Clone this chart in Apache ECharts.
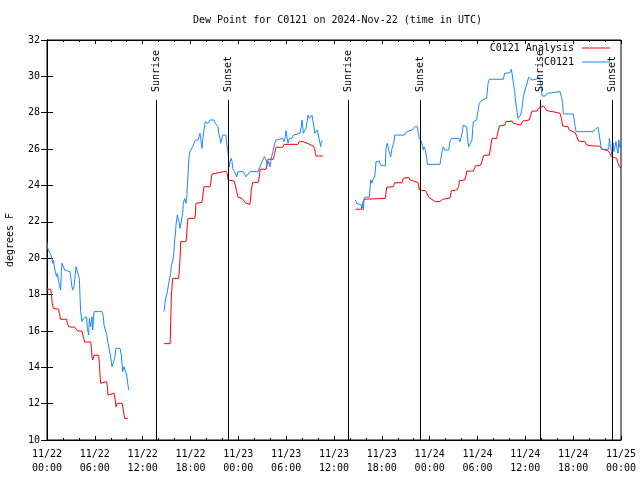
<!DOCTYPE html>
<html>
<head>
<meta charset="utf-8">
<script src="https://cdn.jsdelivr.net/npm/echarts@6/dist/echarts.min.js"></script>
<style>html,body{margin:0;padding:0;background:#fff}#c{width:640px;height:480px}</style>
</head>
<body>
<div id="c"></div>
<script>
// ---- data: [hour since 2024-11-22 00:00 UTC, dew point °F] ----
const obsSeg1 = [[0,20.87],[0.04,20.63],[0.17,20.45],[0.38,20.36],[0.5,20.17],[0.63,19.94],[0.71,19.72],[0.79,19.9],[0.96,19.81],[1.05,19.2],[1.21,18.98],[1.3,19.17],[1.46,19.07],[1.55,18.52],[1.71,18.25],[1.8,19.26],[1.88,19.72],[2.05,19.62],[2.22,19.35],[2.38,19.26],[2.88,19.26],[2.97,18.98],[3.13,18.43],[3.22,18.25],[3.39,18.43],[3.47,18.8],[3.64,19.53],[3.89,19.53],[4.06,18.89],[4.14,17.88],[4.22,17.06],[4.39,16.51],[4.56,16.69],[4.72,16.6],[4.97,16.78],[5.06,16.14],[5.23,15.77],[5.31,16.69],[5.48,16.23],[5.64,16.78],[5.73,16.05],[5.9,17.06],[6.9,17.06],[7.07,16.78],[7.15,16.32],[7.32,16.05],[7.48,15.87],[7.65,15.32],[7.82,14.95],[7.99,14.58],[8.15,14.03],[8.32,14.12],[8.49,14.49],[8.66,15.04],[9.16,15.04],[9.32,14.67],[9.49,13.76],[9.66,14.03],[9.82,13.94],[9.99,13.57],[10.16,13.02],[10.24,12.75]];
const obsSeg2 = [[14.68,17.06],[14.84,17.7],[15.01,17.97],[15.18,18.07],[15.35,18.8],[15.51,19.17],[15.6,19.62],[15.76,19.81],[15.85,19.9],[15.93,20.36],[16.01,21.0],[16.1,21.27],[16.18,21.82],[16.27,21.92],[16.35,22.37],[16.52,22.47],[16.6,21.92],[16.68,21.64],[16.77,21.82],[16.93,22.28],[17.02,22.47],[17.1,23.02],[17.19,23.11],[17.27,23.29],[17.35,23.2],[17.44,23.02],[17.52,23.29],[17.6,23.93],[17.69,24.57],[17.77,25.31],[17.85,25.67],[17.94,25.86],[18.19,25.95],[18.27,26.13],[18.44,26.32],[18.61,26.5],[18.77,26.41],[18.94,26.5],[19.03,26.59],[19.19,26.87],[19.28,26.59],[19.44,26.04],[19.53,26.5],[19.61,26.77],[19.69,27.05],[19.78,27.32],[19.86,27.51],[20.03,27.6],[20.2,27.42],[20.36,27.51],[20.45,27.6],[20.95,27.6],[21.12,27.42],[21.28,27.32],[21.45,27.23],[21.53,26.87],[21.7,26.59],[21.78,26.32],[21.87,26.5],[21.95,26.59],[22.04,26.77],[22.12,26.87],[22.29,26.68],[22.45,26.77],[22.54,26.32],[22.62,26.04],[22.7,25.86],[22.79,25.4],[22.87,25.03],[22.96,25.31],[23.12,25.49],[23.21,25.31],[23.29,24.94],[23.46,24.85],[23.62,24.67],[23.79,24.48],[23.96,24.76],[24.63,24.76],[24.8,24.67],[24.96,24.48],[25.21,24.48],[25.46,24.76],[26.47,24.76],[26.72,25.03],[26.89,25.22],[27.05,25.4],[27.3,25.58],[27.47,25.4],[27.64,25.12],[27.81,25.31],[27.97,25.03],[28.06,25.31],[28.22,25.67],[28.39,25.95],[28.56,26.32],[28.73,26.5],[28.89,26.59],[29.56,26.59],[29.73,26.41],[29.9,26.68],[29.98,27.01],[30.06,26.77],[30.15,26.54],[30.23,26.32],[30.4,26.59],[30.73,26.59],[30.9,26.77],[31.07,26.87],[31.74,26.87],[31.9,27.23],[31.99,27.6],[32.15,26.87],[32.32,26.96],[32.49,27.14],[32.66,27.6],[32.74,27.87],[32.91,27.69],[33.07,27.78],[33.24,27.87],[33.33,27.6],[33.49,27.23],[33.58,26.87],[33.83,26.87],[33.91,27.05],[33.99,27.14],[34.16,26.96],[34.24,26.32],[34.33,26.13],[34.41,26.41],[34.58,26.45]];
const obsSeg3 = [[38.68,23.2],[38.84,23.02],[39.01,22.92],[39.43,22.92],[39.51,22.74],[39.6,23.02],[39.68,22.65],[39.76,23.2],[39.85,23.35],[40.43,23.35],[40.52,23.84],[40.6,24.3],[40.68,24.39],[40.77,24.12],[40.85,24.3],[40.93,24.39],[41.1,24.48],[41.19,24.85],[41.27,25.31],[41.35,25.34],[41.69,25.34],[41.85,25.12],[42.02,25.07],[42.44,25.07],[42.52,26.04],[42.69,26.32],[42.86,25.95],[43.03,25.86],[43.11,25.58],[43.19,25.67],[43.28,26.04],[43.44,26.04],[43.53,26.41],[43.61,26.77],[44.78,26.77],[44.95,26.87],[45.12,26.96],[45.28,27.05],[45.79,27.05],[45.95,27.14],[46.12,27.23],[46.29,27.32],[46.45,27.23],[46.62,26.77],[46.7,26.59],[46.79,26.64],[46.96,26.41],[47.12,26.13],[47.21,25.95],[47.29,26.13],[47.46,25.95],[47.63,25.49],[47.71,25.16],[49.3,25.16],[49.46,25.22],[49.55,25.86],[49.63,25.95],[49.72,26.13],[49.8,26.04],[49.88,25.95],[50.39,25.95],[50.55,26.41],[50.72,26.59],[51.64,26.59],[51.72,26.5],[51.81,26.41],[51.97,26.41],[52.06,26.87],[52.22,27.32],[52.47,27.38],[52.64,27.23],[52.73,26.68],[52.89,26.13],[52.98,26.04],[53.14,26.13],[53.31,26.5],[53.4,27.14],[53.48,27.51],[53.9,27.6],[53.98,27.87],[54.15,28.33],[54.23,28.52],[54.48,28.61],[54.57,28.7],[55.15,28.79],[55.32,29.62],[55.49,29.84],[57.24,29.84],[57.41,30.17],[57.58,30.11],[58.08,30.2],[58.25,30.39],[58.33,30.17],[58.5,29.62],[58.66,29.16],[58.75,28.7],[58.91,28.24],[59.08,27.69],[59.25,27.69],[59.42,27.87],[59.58,28.24],[59.75,28.88],[60.09,29.43],[60.42,29.95],[60.67,29.95],[60.84,29.8],[61.0,29.71],[61.34,29.84],[61.67,29.95],[61.84,29.8],[62.01,29.34],[62.09,28.92],[62.51,28.92],[62.76,29.07],[63.01,29.16],[64.35,29.16],[64.52,28.88],[64.68,28.52],[64.77,27.93],[66.02,27.93],[66.19,27.42],[66.36,26.96],[68.53,26.96],[68.78,27.09],[69.12,27.2],[69.28,27.14],[69.37,26.5],[69.54,25.99],[70.46,25.99],[70.54,26.59],[70.62,26.32],[70.71,26.13],[70.79,25.86],[70.87,25.67],[70.96,26.13],[71.04,26.32],[71.12,25.86],[71.21,26.04],[71.37,26.41],[71.46,26.13],[71.54,25.95],[71.63,25.77],[71.72,26.5],[71.84,26.1],[72,26.2]];
const anaSeg1 = [[0,18.29],[0.46,18.29],[0.54,18.07],[0.63,17.61],[0.79,17.24],[0.96,17.19],[1.46,17.19],[1.55,16.97],[1.71,16.64],[2.47,16.64],[2.55,16.42],[2.72,16.23],[3.47,16.2],[3.64,16.09],[3.81,16.01],[4.39,15.98],[4.56,15.68],[4.72,15.39],[5.48,15.39],[5.56,15.13],[5.64,14.58],[5.73,14.4],[5.9,14.66],[6.48,14.66],[6.57,14.21],[6.65,13.57],[6.73,13.12],[6.82,13.21],[7.48,13.21],[7.57,12.93],[7.65,12.47],[7.82,12.57],[8.4,12.57],[8.57,12.2],[8.66,11.83],[8.82,12.02],[9.41,12.02],[9.57,11.65],[9.74,11.19],[10.16,11.19]];
const anaSeg2 = [[14.68,15.3],[15.45,15.3],[15.6,17.97],[15.76,18.89],[16.52,18.89],[16.6,19.35],[16.68,19.9],[16.77,20.91],[17.44,20.91],[17.52,21.27],[17.6,21.82],[17.69,22.19],[18.52,22.19],[18.61,22.37],[18.69,23.02],[18.77,23.07],[19.44,23.07],[19.53,23.38],[19.69,23.93],[20.45,23.93],[20.53,24.12],[20.7,24.63],[20.78,24.7],[21.53,24.7],[21.7,24.79],[22.45,24.79],[22.62,24.67],[22.7,24.3],[22.79,24.24],[23.46,24.24],[23.62,24.02],[23.79,23.66],[23.96,23.35],[24.46,23.29],[24.63,23.2],[24.88,23.05],[25.04,22.96],[25.46,22.96],[25.63,23.75],[25.8,24.17],[26.47,24.17],[26.64,24.48],[26.72,24.89],[27.47,24.89],[27.64,25.22],[27.72,25.44],[28.39,25.44],[28.56,25.77],[28.73,26.1],[29.56,26.1],[29.73,26.26],[31.48,26.26],[31.65,26.41],[32.15,26.41],[32.32,26.32],[33.41,26.17],[33.58,26.04],[33.66,25.77],[33.74,25.62],[34.58,25.62]];
const anaSeg3 = [[38.68,22.69],[39.43,22.69],[39.6,23.02],[39.76,23.24],[39.85,23.29],[42.44,23.29],[42.61,23.9],[43.44,23.93],[43.61,24.15],[44.53,24.15],[44.7,24.39],[44.95,24.45],[45.37,24.45],[45.53,24.3],[45.7,24.21],[46.54,24.17],[46.7,23.75],[47.46,23.71],[47.63,23.57],[47.88,23.35],[48.04,23.24],[48.71,23.11],[49.3,23.11],[49.63,23.24],[49.72,23.31],[50.55,23.31],[50.72,23.71],[51.39,23.75],[51.64,23.93],[51.72,24.26],[52.39,24.3],[52.56,24.52],[52.64,24.79],[53.48,24.79],[53.73,25.07],[54.4,25.12],[54.57,25.2],[54.68,25.5],[54.8,25.66],[55.49,25.67],[55.65,26.13],[55.82,26.59],[56.41,26.59],[56.57,26.96],[56.74,27.27],[57.41,27.32],[57.58,27.51],[58.33,27.54],[58.5,27.42],[58.66,27.32],[59.42,27.32],[59.67,27.54],[60.5,27.6],[60.67,27.87],[60.84,28.09],[61.42,28.09],[61.67,28.24],[61.84,28.33],[62.26,28.37],[62.51,28.24],[62.68,28.11],[63.43,28.06],[63.51,28.0],[64.35,27.97],[64.52,27.69],[64.68,27.27],[65.35,27.23],[65.52,27.05],[65.69,26.96],[66.28,26.9],[66.44,26.68],[66.69,26.44],[67.45,26.41],[67.7,26.22],[68.53,26.17],[69.28,26.17],[69.45,26.1],[69.62,25.99],[69.79,25.91],[70.37,25.91],[70.62,25.77],[70.79,25.58],[71.04,25.49],[71.46,25.49],[71.63,25.22],[71.79,25.03],[72,24.95]];
const sunNames = ['Sunrise','Sunset','Sunrise','Sunset','Sunrise','Sunset'];
const sunHours = [13.63, 22.75, 37.8, 46.83, 61.88, 70.83];
const sunLineTop = 28.7;

function joinSegs(segs){
  const out=[];
  segs.forEach((s,i)=>{ if(i>0) out.push([ (out[out.length-1][0]+s[0][0])/2, null ]); s.forEach(p=>out.push(p)); });
  return out;
}
const analysis = joinSegs([anaSeg1, anaSeg2, anaSeg3]);
const observed = joinSegs([obsSeg1, obsSeg2, obsSeg3]);

const FONT = 'DejaVu Sans Mono';
const chart = echarts.init(document.getElementById('c'), null, {renderer:'canvas'});
function xLabel(v){
  const d = 22 + Math.floor(v/24);
  const hh = v % 24;
  return '11/' + d + '\n' + (hh<10?'0':'') + hh + ':00';
}
const xCommon = {
  type:'value', min:0, max:72, interval:6,
  axisLine:{show:true, lineStyle:{color:'#000', width:1}},
  axisTick:{show:true, inside:true, length:4, lineStyle:{color:'#000'}},
  minorTick:{show:true, splitNumber:3, length:2, lineStyle:{color:'#000'}},
  splitLine:{show:false}
};
const yCommon = {
  type:'value', min:10, max:32, interval:2,
  axisLine:{show:true, lineStyle:{color:'#000', width:1}},
  axisTick:{show:true, inside:true, length:6, lineStyle:{color:'#000'}},
  splitLine:{show:false}
};
const legendIcon = 'path://M0 0H28V1H0Z';
chart.setOption({
  animation:false,
  backgroundColor:'#fff',
  title:{text:'Dew Point for C0121 on 2024-Nov-22 (time in UTC)', left:188, top:10,
    textStyle:{fontFamily:FONT, fontSize:10, fontWeight:'normal', color:'#000'}},
  grid:{left:47, right:19, top:40, bottom:40, show:true, borderColor:'#000', borderWidth:1,
    containLabel:false, outerBoundsMode:'none'},
  legend:[
    {data:[{name:'C0121 Analysis', icon:legendIcon}], right:30, top:43, padding:0, align:'right', itemWidth:28, itemHeight:1,
      textStyle:{fontFamily:FONT, fontSize:10, color:'#000', padding:[0,3,0,0]}},
    {data:[{name:'C0121', icon:legendIcon}], right:30, top:57, padding:0, align:'right', itemWidth:28, itemHeight:1,
      textStyle:{fontFamily:FONT, fontSize:10, color:'#000', padding:[0,3,0,0]}}
  ],
  xAxis:[
    Object.assign({}, xCommon, {position:'bottom',
      axisLabel:{show:true, formatter:xLabel, fontFamily:FONT, fontSize:10, color:'#000', lineHeight:14, margin:7}}),
    Object.assign({}, xCommon, {position:'top', axisLabel:{show:false}})
  ],
  yAxis:[
    Object.assign({}, yCommon, {position:'left', name:'degrees F', nameLocation:'middle', nameGap:32,
      nameTextStyle:{fontFamily:FONT, fontSize:10, color:'#000'},
      axisLabel:{fontFamily:FONT, fontSize:10, color:'#000', margin:7}}),
    Object.assign({}, yCommon, {position:'right', axisLabel:{show:false}})
  ],
  series:[
    {name:'C0121 Analysis', type:'line', data:analysis, symbol:'none', connectNulls:false,
      lineStyle:{color:'#ff0000', width:1}, itemStyle:{color:'#ff0000'}, z:3},
    {name:'C0121', type:'line', data:observed, symbol:'none', connectNulls:false,
      lineStyle:{color:'#1a88ff', width:1}, itemStyle:{color:'#1a88ff'}, z:4},
    {name:'sun', type:'custom', z:5,
      data: sunHours.map((h,i)=>[h, sunLineTop, i]),
      renderItem:function(params, api){
        const h = api.value(0);
        const top = api.coord([h, api.value(1)]);
        const bot = api.coord([h, 10]);
        const name = sunNames[api.value(2)];
        return {type:'group', children:[
          {type:'line', shape:{x1:Math.round(top[0])+0.5, y1:top[1], x2:Math.round(top[0])+0.5, y2:bot[1]},
            style:{stroke:'#000', lineWidth:1}},
          {type:'text', x:Math.round(top[0])+0.5, y:top[1]-8, rotation:Math.PI/2,
            style:{text:name, font:'10px "'+FONT+'"', fill:'#000', align:'left', verticalAlign:'middle'}}
        ]};
      }
    }
  ]
});
</script>
</body>
</html>
